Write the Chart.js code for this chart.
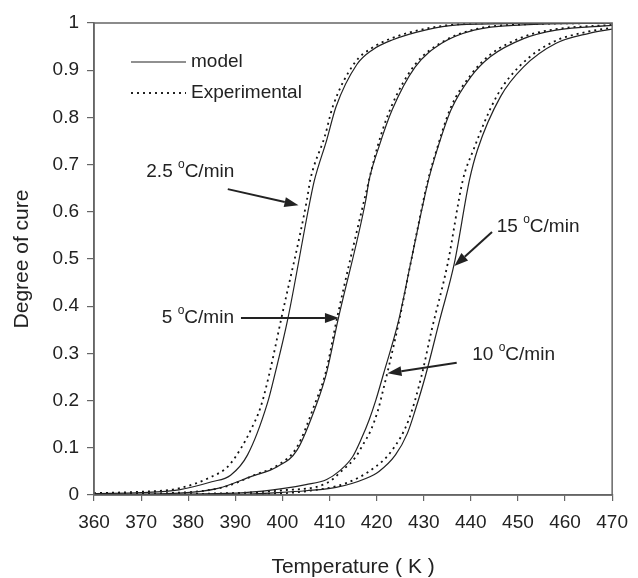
<!DOCTYPE html>
<html lang="en">
<head>
<meta charset="UTF-8" />
<title>Degree of cure</title>
<script src="https://cdn.jsdelivr.net/npm/chart.js"></script>
<style>
  html, body { margin: 0; padding: 0; background: #fff; }
  canvas { display: block; }
</style>
</head>
<body>
<canvas id="cure" width="638" height="578"></canvas>
<script>
  // [temperature K, degree of cure]
  const model25 = [[360,0.003],[370,0.005],[378,0.011],[385,0.028],[389,0.042],[392.6,0.085],[396.8,0.194],[398.5,0.26],[401.1,0.371],[405.9,0.625],[406.8,0.667],[409.4,0.752],[411.4,0.823],[415.8,0.912],[419.1,0.943],[423.3,0.964],[430.3,0.985],[437.2,0.996],[450,0.999],[470,1.0]];
  const exp25 = [[360,0.004],[370,0.007],[378,0.014],[385,0.039],[388.4,0.06],[391.2,0.099],[393.3,0.138],[395.4,0.187],[397.3,0.26],[399.7,0.371],[405.2,0.625],[405.9,0.667],[409,0.76],[410.7,0.823],[415.3,0.915],[419,0.947],[423,0.967],[430,0.987],[437,0.997],[450,1.0],[470,1.0]];
  const model5 = [[360,0.001],[378,0.004],[386.3,0.014],[393.3,0.039],[398.9,0.06],[403.1,0.095],[407.3,0.194],[409.4,0.26],[411.8,0.371],[417.7,0.625],[418.4,0.667],[420.5,0.738],[423.3,0.816],[428.2,0.907],[433.8,0.957],[440.7,0.985],[451,0.996],[470,1.0]];
  const exp5 = [[360,0.002],[380,0.006],[388,0.018],[394,0.042],[399,0.063],[403,0.1],[407,0.196],[409.2,0.26],[411.6,0.375],[417.5,0.63],[420.3,0.742],[423,0.82],[428,0.91],[434,0.96],[441,0.987],[451,0.997],[470,1.0]];
  const model10 = [[360,0.0],[380,0.002],[392,0.005],[400.3,0.014],[405,0.022],[409.4,0.033],[412,0.05],[414.9,0.081],[416.8,0.12],[418.4,0.159],[419.8,0.2],[421.5,0.258],[424.7,0.371],[427.4,0.5],[431,0.667],[432.4,0.717],[435.8,0.816],[440,0.886],[444.2,0.929],[451.2,0.967],[458.1,0.985],[470,0.995]];
  const exp10 = [[360,0.0],[385,0.003],[400,0.01],[409.4,0.025],[412.8,0.053],[415.5,0.08],[417,0.105],[418.8,0.138],[420.3,0.18],[421.2,0.215],[422.3,0.26],[424.8,0.37],[427.4,0.5],[430.9,0.667],[432.4,0.72],[435.7,0.82],[440,0.89],[444,0.932],[451,0.97],[458,0.987],[470,0.996]];
  const model15 = [[360,0.0],[390,0.001],[398.9,0.005],[405,0.009],[411.4,0.016],[417.7,0.035],[420.5,0.05],[424,0.085],[426.5,0.13],[428.2,0.18],[430.3,0.25],[433.4,0.371],[436.5,0.491],[439.7,0.667],[441.4,0.731],[446.3,0.844],[451.2,0.907],[458.1,0.957],[465.1,0.978],[470,0.987]];
  const exp15 = [[360,0.0],[395,0.002],[405,0.008],[413.5,0.025],[419.8,0.06],[423.3,0.095],[426.8,0.159],[429.5,0.251],[431.7,0.35],[435.1,0.491],[438.3,0.667],[440.5,0.73],[445.5,0.845],[450.5,0.91],[457.5,0.96],[465,0.982],[470,0.99]];

  const rates = ['2.5', '5', '15', '10'];
  const xMin = 360, xMax = 470, xStep = 10;
  const yMin = 0, yMax = 1, yStep = 0.1;

  const FONT = '"Liberation Sans", Arial, sans-serif';
  const INK = '#222';
  const AXIS = '#666';

  function pts(arr) { return arr.map(p => ({ x: p[0], y: p[1] })); }

  function solid(arr) {
    return { data: pts(arr), borderColor: INK, borderWidth: 1.2, pointRadius: 0,
             fill: false, cubicInterpolationMode: 'monotone' };
  }
  function dotted(arr) {
    return { data: pts(arr), borderColor: '#111', borderWidth: 1.8, borderDash: [2, 4],
             pointRadius: 0, fill: false, cubicInterpolationMode: 'monotone' };
  }

  // labels + arrows, given in data units (temperature, cure)
  const notes = [
    { text: rates[0], at: [371.1, 0.684], from: [388.4, 0.648], to: [403.4, 0.614] },
    { text: rates[1], at: [374.4, 0.375], from: [391.2, 0.375], to: [412.0, 0.375] },
    { text: rates[2], at: [445.5, 0.568], from: [444.5, 0.557], to: [436.5, 0.485] },
    { text: rates[3], at: [440.3, 0.297], from: [437.0, 0.280], to: [422.3, 0.258] }
  ];

  function arrow(ctx, x1, y1, x2, y2) {
    const a = Math.atan2(y2 - y1, x2 - x1);
    const L = 14, W = 5;
    const bx = x2 - L * Math.cos(a), by = y2 - L * Math.sin(a);
    ctx.beginPath();
    ctx.moveTo(x1, y1);
    ctx.lineTo(bx, by);
    ctx.lineWidth = 2;
    ctx.strokeStyle = INK;
    ctx.stroke();
    ctx.beginPath();
    ctx.moveTo(x2, y2);
    ctx.lineTo(bx + W * Math.sin(a), by - W * Math.cos(a));
    ctx.lineTo(bx - W * Math.sin(a), by + W * Math.cos(a));
    ctx.closePath();
    ctx.fillStyle = INK;
    ctx.fill();
  }

  const extras = {
    id: 'extras',
    afterDraw(chart) {
      const { ctx, chartArea: a, scales: { x, y } } = chart;
      ctx.save();
      // frame
      ctx.strokeStyle = AXIS;
      ctx.lineWidth = 1.5;
      ctx.strokeRect(a.left, a.top, a.right - a.left, a.bottom - a.top);

      // legend
      ctx.fillStyle = INK;
      ctx.font = '19px ' + FONT;
      ctx.textBaseline = 'middle';
      ctx.textAlign = 'left';
      const lx = a.left + 37, ly1 = a.top + 39, ly2 = a.top + 70;
      ctx.strokeStyle = INK;
      ctx.lineWidth = 1.2;
      ctx.beginPath(); ctx.moveTo(lx, ly1); ctx.lineTo(lx + 55, ly1); ctx.stroke();
      ctx.lineWidth = 1.8;
      ctx.setLineDash([2, 4]);
      ctx.beginPath(); ctx.moveTo(lx, ly2); ctx.lineTo(lx + 55, ly2); ctx.stroke();
      ctx.setLineDash([]);
      ctx.fillText('model', lx + 60, ly1);
      ctx.fillText('Experimental', lx + 60, ly2);

      // rate labels with arrows
      notes.forEach(n => {
        const tx = x.getPixelForValue(n.at[0]), ty = y.getPixelForValue(n.at[1]);
        ctx.font = '19px ' + FONT;
        const s1 = n.text + ' ';
        ctx.fillText(s1, tx, ty);
        let cx = tx + ctx.measureText(s1).width;
        ctx.font = '12px ' + FONT;
        ctx.fillText('o', cx, ty - 7);
        cx += ctx.measureText('o').width;
        ctx.font = '19px ' + FONT;
        ctx.fillText('C/min', cx, ty);
        arrow(ctx, x.getPixelForValue(n.from[0]), y.getPixelForValue(n.from[1]),
                   x.getPixelForValue(n.to[0]), y.getPixelForValue(n.to[1]));
      });
      ctx.restore();
    }
  };

  new Chart(document.getElementById('cure').getContext('2d'), {
    type: 'line',
    data: {
      datasets: [
        solid(model25), dotted(exp25),
        solid(model5), dotted(exp5),
        solid(model10), dotted(exp10),
        solid(model15), dotted(exp15)
      ]
    },
    options: {
      responsive: false,
      animation: false,
      layout: { padding: { top: 23, right: 18, left: 0, bottom: 0 } },
      plugins: { legend: { display: false }, tooltip: { enabled: false } },
      scales: {
        x: {
          type: 'linear', min: xMin, max: xMax,
          afterFit(s) { s.height = 83; },
          ticks: { stepSize: xStep, color: INK, padding: 10, maxRotation: 0,
                   font: { family: FONT, size: 19 } },
          grid: { drawOnChartArea: false, drawTicks: true, tickLength: 6, color: AXIS, lineWidth: 1.2 },
          border: { color: AXIS, width: 1.5 },
          title: { display: true, text: 'Temperature ( K )', color: INK,
                   font: { family: FONT, size: 21, lineHeight: 1 }, padding: { top: 0, bottom: 0 } }
        },
        y: {
          type: 'linear', min: yMin, max: yMax,
          afterFit(s) { s.width = 94; },
          ticks: { stepSize: yStep, color: INK, padding: 8,
                   font: { family: FONT, size: 19 },
                   callback: v => String(Math.round(v * 10) / 10) },
          grid: { drawOnChartArea: false, drawTicks: true, tickLength: 7, color: AXIS, lineWidth: 1.2 },
          border: { color: AXIS, width: 1.5 },
          title: { display: true, text: 'Degree of cure', color: INK,
                   font: { family: FONT, size: 21, lineHeight: 1 }, padding: { top: 12, bottom: 0 } }
        }
      }
    },
    plugins: [extras]
  });
</script>
</body>
</html>
